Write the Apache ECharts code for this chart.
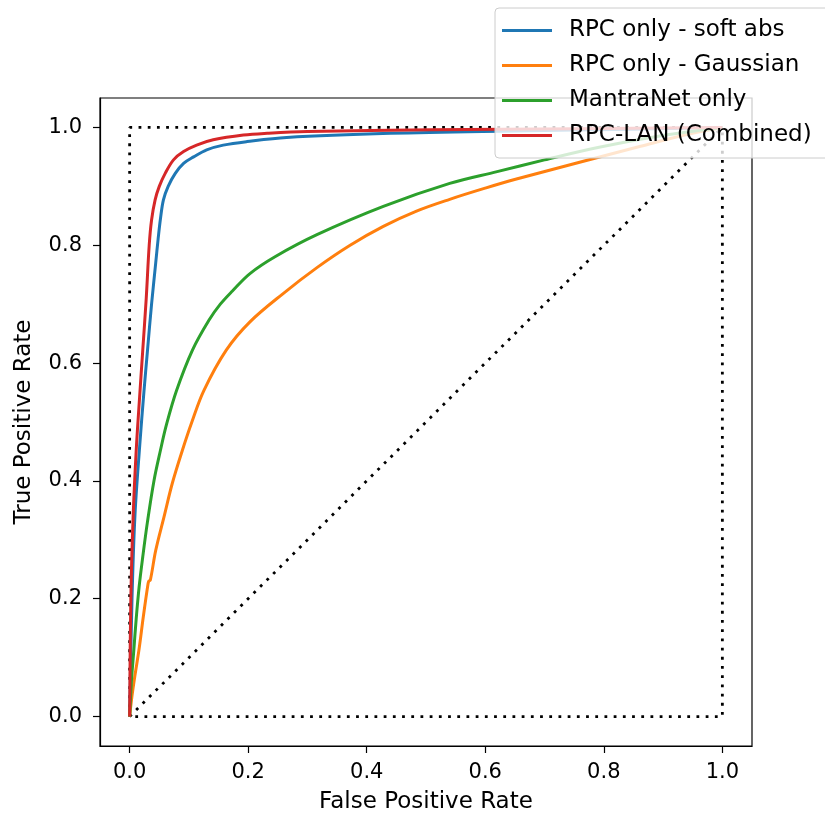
<!DOCTYPE html>
<html>
<head>
<meta charset="utf-8">
<script src="https://cdn.jsdelivr.net/npm/echarts@6/dist/echarts.min.js"></script>
<style>
html,body{margin:0;padding:0;background:#fff;}
#chart{width:825px;height:821px;}
</style>
</head>
<body>
<div id="chart"></div>
<script>
// ---- data ----
const tickValues = [0.0, 0.2, 0.4, 0.6, 0.8, 1.0];

const softAbsFpr = [0, 0.004, 0.009, 0.017, 0.024, 0.030, 0.037, 0.044, 0.048, 0.052, 0.057, 0.065, 0.077, 0.091, 0.108, 0.130, 0.158, 0.198, 0.265, 0.440, 0.650, 0.850, 1.0];
const softAbsTpr = [0, 0.200, 0.342, 0.460, 0.550, 0.620, 0.700, 0.770, 0.810, 0.845, 0.877, 0.900, 0.922, 0.939, 0.950, 0.962, 0.970, 0.976, 0.983, 0.990, 0.994, 0.997, 1.0];

const gaussFpr = [0, 0.004, 0.009, 0.016, 0.023, 0.031, 0.0325, 0.035, 0.044, 0.058, 0.072, 0.089, 0.105, 0.125, 0.163, 0.203, 0.259, 0.316, 0.372, 0.428, 0.484, 0.540, 0.600, 0.651, 0.756, 0.862, 0.940, 1.0];
const gaussTpr = [0, 0.035, 0.070, 0.115, 0.169, 0.225, 0.230, 0.232, 0.282, 0.339, 0.396, 0.452, 0.500, 0.553, 0.622, 0.670, 0.718, 0.762, 0.800, 0.832, 0.858, 0.878, 0.897, 0.912, 0.940, 0.968, 0.988, 1.0];

const mantraFpr = [0, 0.003, 0.007, 0.011, 0.016, 0.022, 0.030, 0.041, 0.052, 0.062, 0.079, 0.106, 0.134, 0.153, 0.173, 0.203, 0.246, 0.316, 0.428, 0.540, 0.620, 0.700, 0.790, 0.897, 1.0];
const mantraTpr = [0, 0.060, 0.112, 0.165, 0.220, 0.270, 0.330, 0.400, 0.452, 0.495, 0.553, 0.622, 0.673, 0.700, 0.722, 0.752, 0.781, 0.818, 0.866, 0.905, 0.925, 0.945, 0.966, 0.986, 1.0];

const combinedFpr = [0, 0.002, 0.006, 0.011, 0.016, 0.022, 0.028, 0.033, 0.037, 0.043, 0.050, 0.060, 0.074, 0.091, 0.113, 0.141, 0.192, 0.232, 0.300, 0.510, 0.750, 1.0];
const combinedTpr = [0, 0.200, 0.342, 0.450, 0.530, 0.620, 0.710, 0.800, 0.843, 0.877, 0.900, 0.922, 0.945, 0.959, 0.970, 0.979, 0.987, 0.990, 0.993, 0.996, 0.998, 1.0];

const diagFpr = [0, 1];
const diagTpr = [0, 1];
const boxFpr = [0, 0, 1, 1, 0];
const boxTpr = [0, 1, 1, 0, 0];

const seriesNames = ['RPC only - soft abs', 'RPC only - Gaussian', 'MantraNet only', 'RPC-LAN (Combined)'];
const seriesColors = ['#1f77b4', '#ff7f0e', '#2ca02c', '#d62728'];

// ---- build ----
function pairs(xs, ys) { return xs.map((x, i) => [x, ys[i]]); }

const FONT = 'DejaVu Sans';
const chart = echarts.init(document.getElementById('chart'), null, {renderer: 'canvas'});

const dotted = {color: '#000', width: 2.8, type: [2.8, 6.4], cap: 'butt'};

const curves = [
  pairs(softAbsFpr, softAbsTpr),
  pairs(gaussFpr, gaussTpr),
  pairs(mantraFpr, mantraTpr),
  pairs(combinedFpr, combinedTpr)
];

const series = [
  {type: 'line', data: pairs(diagFpr, diagTpr), symbol: 'none', lineStyle: dotted, silent: true, z: 1},
  {type: 'line', data: pairs(boxFpr, boxTpr), symbol: 'none', lineStyle: dotted, silent: true, z: 1}
];
curves.forEach((d, i) => {
  series.push({
    name: seriesNames[i], type: 'line', data: d, symbol: 'none', showSymbol: false,
    smooth: 0.35,
    lineStyle: {color: seriesColors[i], width: 3}, itemStyle: {color: seriesColors[i]}, z: 2 + i
  });
});

const axisCommon = {
  type: 'value', min: -0.05, max: 1.05,
  splitLine: {show: false},
  axisLine: {show: true, onZero: false, lineStyle: {color: '#000', width: 1.2}},
  axisTick: {show: true, inside: false, length: 7, customValues: tickValues, lineStyle: {color: '#000', width: 1.2}},
  axisLabel: {customValues: tickValues, formatter: v => v.toFixed(1), color: '#000', fontFamily: FONT, fontSize: 21, margin: 16},
  nameLocation: 'middle',
  nameTextStyle: {color: '#000', fontFamily: FONT, fontSize: 23}
};

chart.setOption({
  animation: false,
  backgroundColor: '#fff',
  grid: {left: 100, top: 98, width: 652, height: 648, show: true, borderColor: '#000', borderWidth: 1.2, backgroundColor: 'transparent'},
  xAxis: Object.assign({}, axisCommon, {name: 'False Positive Rate', nameGap: 45}),
  yAxis: Object.assign({}, axisCommon, {name: 'True Positive Rate', nameGap: 64,
    axisLabel: Object.assign({}, axisCommon.axisLabel, {margin: 18})}),
  legend: {
    data: seriesNames,
    orient: 'vertical', left: 495, top: 8,
    padding: [11, 18, 11, 7],
    itemWidth: 50, itemHeight: 3, itemGap: 12, icon: 'rect',
    backgroundColor: 'rgba(255,255,255,0.8)', borderColor: '#cccccc', borderWidth: 1, borderRadius: 4,
    textStyle: {color: '#000', fontFamily: FONT, fontSize: 23, lineHeight: 23, padding: [0, 0, 0, 12]},
    z: 10
  },
  series: series
});
</script>
</body>
</html>
